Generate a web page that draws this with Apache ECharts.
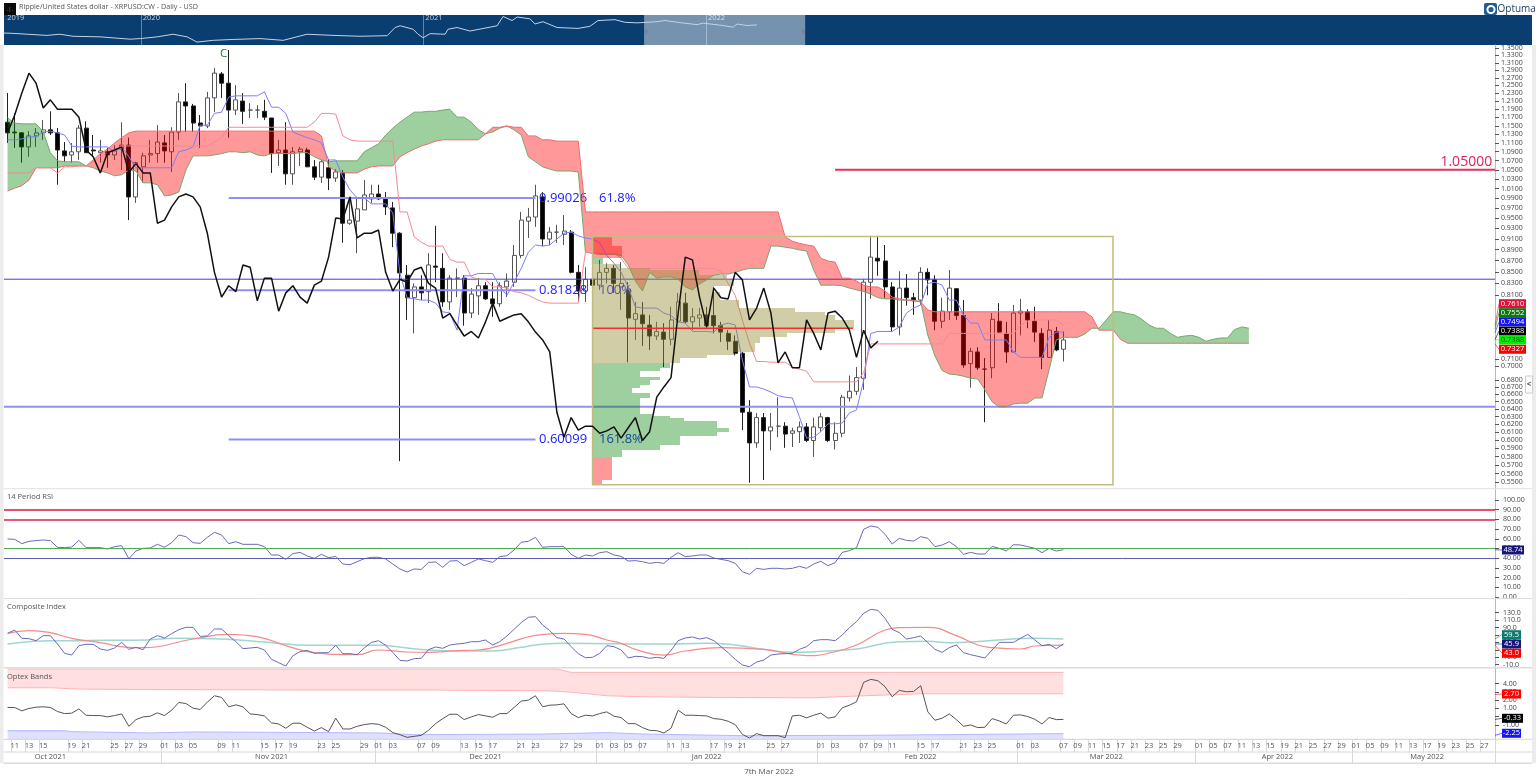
<!DOCTYPE html>
<html><head><meta charset="utf-8"><title>XRPUSD</title>
<style>html,body{margin:0;padding:0;background:#fff}#c{width:1536px;height:783px}</style>
<script src="https://cdn.jsdelivr.net/npm/echarts@6/dist/echarts.min.js"></script></head>
<body><div id="c"></div>
<script>
// ---------- values ----------
const opens=[1.161,1.138,1.136,1.104,1.129,1.136,1.143,1.136,1.095,1.086,
1.093,1.147,1.097,1.091,1.093,1.086,1.099,1.108,.997,1.060,
1.086,1.089,1.113,1.093,1.138,1.210,1.200,1.159,1.152,1.220,
1.281,1.257,1.190,1.212,1.190,1.190,1.187,1.171,1.091,1.097,
1.045,1.093,1.097,1.060,1.038,1.058,1.036,1.047,.945,.949,
.971,.993,1.003,.993,.975,.926,.850,.812,.830,.822,
.866,.862,.805,.845,.845,.787,.815,.832,.810,.802,
.830,.838,.885,.949,.957,.997,.915,.928,.924,.928,
.855,.823,.843,.833,.855,.862,.830,.825,.777,.784,
.768,.751,.757,.746,.774,.803,.773,.779,.784,.783,
.767,.755,.743,.725,.643,.604,.636,.619,.625,.625,
.616,.618,.624,.607,.623,.636,.607,.616,.662,.671,
.689,.838,.880,.875,.830,.765,.828,.812,.808,.855,
.842,.774,.789,.827,.783,.710,.727,.702,.704,.774,
.755,.727,.787,.789,.774,.755,.719,.758,.731];
const closes=[1.136,1.136,1.104,1.129,1.136,1.143,1.136,1.097,1.084,1.093,
1.147,1.091,1.095,1.095,1.086,1.095,1.108,.997,1.069,1.084,
1.089,1.115,1.095,1.138,1.210,1.200,1.159,1.152,1.220,1.283,
1.257,1.190,1.215,1.187,1.190,1.190,1.173,1.089,1.097,1.045,
1.093,1.099,1.060,1.038,1.071,1.036,1.049,.945,.951,.973,
1.001,1.003,.993,.977,.926,.854,.812,.830,.820,.868,
.864,.805,.845,.845,.787,.818,.832,.810,.802,.832,
.840,.885,.951,.957,.999,.915,.928,.928,.930,.855,
.823,.843,.833,.855,.862,.836,.836,.779,.786,.770,
.751,.758,.746,.776,.805,.773,.781,.784,.767,.767,
.757,.743,.725,.643,.604,.636,.619,.624,.625,.615,
.619,.624,.607,.624,.637,.607,.616,.663,.671,.690,
.838,.882,.875,.830,.765,.828,.812,.807,.855,.842,
.774,.790,.828,.783,.708,.728,.704,.702,.777,.757,
.727,.787,.790,.776,.757,.719,.760,.730,.745];
const lows=[1.113,1.102,1.069,1.082,1.104,1.120,1.131,1.022,1.071,1.069,
1.075,1.091,1.082,1.069,1.058,1.075,1.053,.951,.985,1.026,
1.069,1.069,1.069,1.049,1.120,1.138,1.138,1.102,1.147,1.185,
1.220,1.125,1.178,1.157,1.171,1.171,1.166,1.047,1.062,1.022,
1.022,1.062,1.060,1.032,1.026,1.011,1.028,.908,.942,.889,
.971,.985,.991,.961,.900,.582,.776,.755,.808,.803,
.838,.797,.792,.813,.767,.779,.784,.808,.781,.797,
.813,.830,.880,.917,.938,.902,.904,.908,.904,.853,
.805,.805,.808,.825,.836,.820,.792,.712,.745,.736,
.730,.745,.705,.737,.771,.771,.760,.765,.763,.755,
.742,.730,.722,.620,.557,.598,.560,.595,.611,.598,
.599,.604,.605,.587,.618,.605,.596,.611,.657,.666,
.673,.810,.849,.812,.757,.752,.799,.784,.800,.816,
.760,.763,.776,.776,.704,.676,.701,.630,.689,.755,
.711,.727,.752,.763,.742,.702,.718,.728,.713];
const highs=[1.232,1.182,1.138,1.140,1.147,1.166,1.187,1.147,1.115,1.113,
1.154,1.163,1.131,1.120,1.102,1.108,1.161,1.125,1.071,1.091,
1.120,1.154,1.131,1.149,1.232,1.257,1.205,1.178,1.235,1.297,
1.286,1.345,1.252,1.232,1.207,1.202,1.215,1.171,1.120,1.161,
1.104,1.104,1.102,1.075,1.075,1.077,1.055,1.053,.997,.997,
1.032,1.022,1.022,1.007,.987,.928,.868,.836,.850,.889,
.940,.889,.850,.862,.850,.828,.845,.838,.838,.838,
.853,.904,.967,.975,1.022,1.007,.938,.942,.961,.932,
.868,.864,.868,.877,.871,.868,.873,.838,.805,.805,
.784,.773,.771,.797,.820,.820,.795,.795,.797,.830,
.773,.760,.752,.727,.659,.642,.642,.642,.663,.630,
.623,.631,.629,.636,.642,.637,.630,.666,.693,.705,
.843,.921,.921,.904,.838,.857,.852,.820,.864,.862,
.850,.812,.859,.828,.808,.733,.734,.718,.787,.803,
.773,.800,.810,.793,.797,.763,.776,.765,.758];
const tenkan=[1.120,1.120,1.122,1.127,1.127,1.138,1.140,1.136,1.131,1.106,
1.104,1.104,1.104,1.104,1.104,1.093,1.104,1.082,1.058,1.058,
1.058,1.058,1.058,1.058,1.093,1.097,1.104,1.154,1.154,1.182,
1.185,1.222,1.225,1.225,1.225,1.225,1.235,1.197,1.197,1.182,
1.138,1.131,1.125,1.120,1.113,1.075,1.075,1.038,1.011,.995,
.995,.983,.983,.983,.965,.853,.812,.810,.808,.808,
.803,.789,.787,.760,.849,.849,.853,.853,.853,.830,
.816,.838,.862,.891,.904,.902,.904,.915,.926,.928,
.921,.917,.915,.908,.885,.871,.855,.830,.797,.795,
.795,.795,.787,.783,.773,.771,.758,.758,.758,.757,
.768,.771,.768,.715,.677,.677,.674,.670,.665,.663,
.662,.637,.610,.611,.618,.628,.628,.629,.642,.646,
.686,.755,.758,.758,.758,.765,.787,.795,.800,.836,
.838,.833,.808,.808,.784,.771,.771,.745,.745,.745,
.745,.727,.719,.719,.719,.719,.749,.757,.757];
const kijun=[1.047,1.047,1.047,1.047,1.058,1.058,1.058,1.047,1.060,1.060,
1.062,1.062,1.071,1.082,1.091,1.097,1.106,1.106,1.106,1.106,
1.106,1.106,1.106,1.106,1.106,1.106,1.106,1.106,1.106,1.115,
1.125,1.149,1.149,1.149,1.149,1.149,1.149,1.149,1.149,1.149,
1.149,1.149,1.149,1.161,1.182,1.182,1.180,1.129,1.120,1.117,
1.117,1.117,1.117,1.117,1.117,.967,.967,.919,.909,.902,
.902,.902,.878,.873,.873,.847,.843,.843,.830,.830,
.828,.822,.820,.816,.810,.805,.803,.803,.803,.803,
.803,.891,.889,.889,.889,.889,.880,.862,.862,.862,
.862,.862,.862,.862,.862,.862,.862,.862,.862,.862,
.857,.836,.816,.776,.740,.713,.713,.712,.712,.712,
.705,.702,.699,.684,.684,.684,.684,.684,.684,.684,
.697,.739,.739,.739,.739,.739,.739,.739,.739,.739,
.739,.739,.755,.755,.755,.755,.755,.755,.755,.755,
.755,.755,.768,.774,.776,.776,.776,.776,.768];
const chikou=[1.136,1.178,1.232,1.283,1.257,1.195,1.215,1.192,1.192,1.192,
1.173,1.097,1.082,1.047,1.091,1.097,1.104,1.049,1.067,1.047,
1.047,.945,.951,.977,.997,1.003,.997,.977,.926,.855,
.813,.832,.822,.868,.864,.807,.845,.845,.790,.820,
.832,.813,.803,.833,.840,.882,.955,.953,.997,.917,
.926,.926,.932,.855,.823,.843,.838,.859,.864,.836,
.828,.779,.786,.768,.751,.758,.748,.773,.803,.774,
.779,.784,.786,.773,.757,.745,.727,.643,.611,.636,
.620,.625,.625,.616,.619,.624,.610,.623,.636,.607,
.618,.663,.677,.690,.787,.882,.877,.813,.765,.828,
.812,.810,.855,.842,.776,.795,.828,.787,.711,.727,
.704,.704,.776,.755,.730,.787,.790,.779,.760,.719,
.760,.733,.743];
const spanA=[1.171,1.159,1.157,1.157,1.157,1.138,1.091,1.073,1.071,1.071,
1.071,1.062,1.058,1.051,1.047,1.041,1.043,1.053,1.051,1.026,
1.026,1.022,.999,1.001,1.007,1.053,1.084,1.084,1.084,1.086,
1.089,1.093,1.093,1.091,1.093,1.086,1.084,1.089,1.089,1.089,
1.089,1.091,1.091,1.082,1.075,1.071,1.073,1.073,1.073,1.073,
1.093,1.102,1.111,1.131,1.147,1.161,1.173,1.185,1.185,1.187,
1.187,1.190,1.192,1.173,1.173,1.161,1.143,1.134,1.138,1.147,
1.152,1.143,1.131,1.082,1.071,1.060,1.055,1.051,1.051,1.051,
1.049,.891,.889,.887,.887,.887,.885,.868,.840,.823,
.855,.845,.847,.847,.843,.830,.825,.835,.842,.850,
.852,.852,.855,.859,.862,.862,.862,.902,.902,.900,
.898,.895,.893,.859,.833,.833,.833,.832,.828,.825,
.822,.818,.812,.810,.810,.808,.808,.807,.805,.752,
.721,.700,.695,.694,.692,.689,.688,.673,.657,.650,
.650,.654,.655,.655,.662,.662,.701,.745,.749,.749,
.749,.754,.763,.763,.776,.789,.789,.786,.784,.777,
.768,.763,.763,.755,.749,.751,.752,.749,.743,.746,
.748,.748,.761,.765,.763];
const spanB=[1.009,1.015,1.020,1.032,1.058,1.058,1.058,1.058,1.062,1.062,
1.062,1.062,1.075,1.089,1.099,1.113,1.125,1.136,1.140,1.140,
1.140,1.140,1.140,1.140,1.140,1.140,1.140,1.140,1.140,1.140,
1.140,1.140,1.140,1.140,1.140,1.140,1.140,1.140,1.140,1.140,
1.140,1.140,1.140,1.140,1.129,1.060,1.051,1.047,1.047,1.047,
1.055,1.060,1.062,1.062,1.062,1.082,1.091,1.099,1.106,1.111,
1.117,1.120,1.120,1.120,1.120,1.120,1.120,1.134,1.149,1.149,
1.152,1.149,1.149,1.129,1.129,1.120,1.120,1.117,1.117,1.117,
1.117,.967,.967,.967,.967,.967,.967,.967,.967,.967,
.967,.967,.967,.967,.967,.967,.967,.967,.967,.967,
.967,.967,.967,.967,.967,.967,.967,.967,.967,.919,
.911,.907,.904,.902,.880,.875,.873,.845,.845,.840,
.833,.830,.830,.823,.813,.810,.808,.808,.805,.792,
.789,.789,.789,.789,.789,.789,.789,.789,.789,.789,
.789,.789,.789,.789,.789,.789,.789,.789,.789,.789,
.789,.789,.781,.760,.760,.760,.746,.740,.740,.740,
.740,.740,.740,.740,.740,.740,.740,.740,.740,.740,
.740,.740,.740,.740,.740];
const rsiValues=[59.8,59.4,55.0,57.4,58.1,58.8,58.1,51.2,50.9,51.5,
58.4,50.9,50.9,50.9,49.5,51.9,52.9,39.5,47.4,50.2,
50.5,54.3,51.2,56.0,63.9,62.2,56.0,55.3,61.5,66.7,
63.9,55.0,57.0,54.3,54.3,54.3,51.9,43.3,43.3,38.8,
44.7,46.0,42.3,39.9,44.0,40.5,41.9,34.0,33.3,36.4,
39.5,40.9,40.9,39.2,34.0,28.9,25.8,28.9,28.5,35.7,
36.1,30.6,37.1,37.5,32.3,35.7,39.2,37.5,35.7,41.6,
42.6,48.4,56.4,57.4,61.5,51.2,51.9,51.9,51.9,44.0,
39.9,43.3,42.3,45.7,46.7,43.3,41.9,37.1,37.5,36.4,
34.7,35.7,34.7,40.9,45.7,41.6,42.3,43.3,43.3,40.2,
38.8,37.5,34.7,26.1,23.4,29.6,28.5,29.6,29.6,28.9,
29.6,31.6,29.6,34.0,36.8,32.3,35.4,46.0,47.8,50.9,
69.8,73.2,71.8,64.6,54.6,60.5,58.4,57.7,62.2,60.5,
51.9,53.6,57.0,51.9,44.0,46.0,44.3,44.3,52.2,50.2,
47.4,53.9,53.6,51.9,50.2,45.7,50.2,47.4,48.74];
const compositeValues=[74.5,83.4,61.0,60.1,54.7,68.2,68.2,45.8,20.6,16.1,
41.3,44.9,44.9,32.3,28.7,35.0,50.2,31.4,36.8,30.5,
59.2,68.2,61.9,73.6,84.3,90.6,90.6,66.4,67.3,86.1,
86.1,68.2,52.0,33.2,35.0,36.8,29.6,4.5,-4.5,-13.5,
14.3,25.1,28.7,20.6,22.4,22.4,42.2,19.7,19.7,17.0,
35.0,50.2,54.7,42.2,23.3,1.8,0.0,6.3,7.2,30.5,
37.7,34.1,43.1,45.8,47.6,52.0,52.0,56.5,43.1,52.0,
67.3,85.2,103.2,117.6,119.4,96.9,81.7,62.8,59.2,38.6,
19.7,9.0,9.9,20.6,41.3,38.6,29.6,8.1,12.6,11.7,
7.2,9.9,7.2,28.7,54.7,61.9,64.6,59.2,62.8,54.7,
38.6,22.4,4.5,-10.8,-15.3,-2.7,2.7,16.1,18.8,19.7,
20.6,31.4,38.6,54.7,57.4,57.4,54.7,70.0,89.7,105.9,
128.3,139.1,136.4,114.9,85.2,76.3,59.2,62.8,67.3,49.4,
31.4,23.3,35.9,43.1,22.4,17.0,12.6,8.1,29.6,50.2,
50.2,50.2,61.0,71.8,56.5,41.3,44.9,33.2,45.9];
const compositeSlowIdx=[0,3,6,9,13,17,19,26,31,33,36,39,43,47,49,52,56,59,63,66,70,74,78,81,84,86,88,92,95,100,106,112,115,119,123,125,129,133,136,138,142,144,148];
const compositeSlow=[74.5,81.7,76.3,61.0,49.4,36.8,35.9,59.2,71.8,70.0,61.0,41.3,22.4,17.0,17.0,29.6,24.2,23.3,27.8,29.6,47.6,69.1,74.5,71.8,56.5,47.6,31.4,16.1,26.9,35.9,31.4,14.3,20.6,43.1,83.4,89.7,90.6,68.2,43.1,35.9,32.3,40.4,43.0];
const compositeMidIdx=[0,3,6,9,14,18,24,30,36,39,43,52,56,59,63,68,72,74,78,84,92,98,102,106,110,113,119,125,129,132,137,144,148];
const compositeMid=[45.8,52.0,54.7,54.7,55.6,55.6,61.0,59.2,51.1,45.8,42.2,42.2,35.0,29.6,26.9,26.9,36.8,43.1,47.6,46.7,45.8,47.6,43.1,31.4,23.3,25.1,32.3,52.0,52.9,49.4,53.8,61.0,59.5];
const optexValues=[1.12,1.12,.71,1.0,1.16,1.2,1.12,.63,.38,.43,
.95,.18,.14,.14,-.02,.14,.34,-1.16,-.35,-.02,
.06,.47,.14,.79,1.73,1.6,1.04,.87,1.77,2.54,
2.34,1.2,1.44,1.2,.34,.26,.10,-.75,-.88,-1.40,
-.79,-.79,-1.28,-1.73,-1.32,-1.81,-.18,-1.49,-1.49,-1.16,
-.96,-.84,-.92,-1.28,-1.93,-2.18,-2.50,-2.38,-2.26,-1.65,
-.84,-.23,.30,.30,-.35,-.02,.26,.10,-.06,.38,
.38,1.12,1.89,2.01,2.54,1.2,1.40,1.44,1.56,.38,
-.10,.18,.10,.38,.59,.06,-.10,-.84,-.84,-1.32,
-1.65,-1.69,-1.97,-1.40,.79,.18,.18,.14,.10,-.23,
-.31,-.55,-.96,-2.14,-2.58,-2.05,-2.30,-2.30,-2.30,-2.54,
.10,.18,-.14,.18,.43,-.18,-.02,1.08,1.40,1.81,
4.17,4.53,4.37,3.64,2.42,3.19,3.03,3.07,3.76,.59,
-.43,-.18,.34,-.35,-1.16,-1.0,-1.32,-1.28,-.23,-.51,
-.88,.18,.22,.02,-.31,-.88,-.10,-.35,-.33];
const upperBandIdx=[0,6,10,17,42,60,75,77,79,81,84,89,99,113,120,128,148];
const upperBandHigh=[5.79,5.79,5.79,5.79,5.79,5.79,5.79,5.79,5.38,5.38,5.38,5.38,5.38,5.38,5.38,5.38,5.38];
const upperBandLow=[3.51,3.51,3.35,3.31,3.23,3.23,3.15,3.08,2.98,2.82,2.54,2.42,2.34,2.29,2.54,2.78,2.78];
const lowerBandIdx=[0,8,9,20,26,37,52,57,75,84,89,103,120,148];
const lowerBandHigh=[-1.69,-1.69,-1.81,-1.97,-1.85,-1.89,-1.97,-2.18,-2.10,-1.93,-2.10,-2.30,-2.26,-2.05];
const lowerBandLow=[-2.74,-2.74,-2.74,-2.74,-2.74,-2.74,-2.74,-2.74,-2.74,-2.74,-2.74,-2.74,-2.74,-2.74];
// volume profile rows: price edges, volume in bar widths, zone per row
const profileEdges=[.919,.902,.880,.870,.863,.859,.850,.842,.831,.822,.808,.795,.789,.784,.776,.771,.763,.756,.750,.740,.727,.722,.718,.711,.704,.700,.691,.686,.680,.675,.669,.662,.655,.641,.638,.635,.631,.623,.618,.612,.602,.595,.587,.560,.556];
const profileVolume=[2.7,4.1,1.5,3.9,8.1,14.9,18.8,19.8,17.0,17.9,20.5,28.4,32.6,34.0,36.6,36.6,34.0,27.2,23.5,22.8,19.8,16.0,12.3,10.9,9.5,6.7,9.5,8.1,6.7,5.5,8.1,6.7,6.7,8.3,10.9,12.8,17.4,19.1,17.4,12.3,9.5,4.1,2.7,1.3];
const profileZone=['r','r','g','t','t','t','t','t','t','t','t','t','t','t','t','t','t','t','t','t','t','t','t','g','g','g','g','g','g','g','g','g','g','g','g','g','g','g','g','g','g','g','r','r'];
// overview strip
const overviewYears=[2019.516,2019.548,2019.598,2019.668,2019.714,2019.760,2019.856,2019.962,2019.998,2020.058,2020.114,2020.164,2020.199,2020.256,2020.327,2020.422,2020.504,2020.564,2020.588,2020.680,2020.776,2020.872,2020.900,2020.918,2020.964,2020.981,2020.999,2021.024,2021.077,2021.087,2021.119,2021.165,2021.261,2021.282,2021.289,2021.314,2021.332,2021.377,2021.395,2021.423,2021.473,2021.547,2021.589,2021.618,2021.678,2021.713,2021.756,2021.827,2021.855,2021.915,2021.968,2021.990,2022.060,2022.096,2022.110,2022.145,2022.180];
const overviewValues=[.41,.40,.37,.33,.37,.30,.28,.20,.22,.28,.37,.28,.10,.16,.19,.22,.16,.31,.37,.33,.30,.32,.60,.66,.54,.37,.25,.39,.37,.54,.60,.48,.66,.98,.99,.84,.96,.90,.72,.80,.60,.57,.64,.84,.87,.78,.76,.80,.84,.76,.70,.75,.67,.61,.72,.67,.69];
// right-hand scale ticks
const priceTicks=[1.35,1.33,1.31,1.29,1.27,1.25,1.23,1.21,1.19,1.17,1.15,1.13,1.11,1.09,1.07,1.05,1.03,1.01,.99,.97,.95,.93,.91,.89,.87,.85,.83,.81,.71,.70,.68,.67,.66,.65,.64,.63,.62,.61,.60,.59,.58,.57,.56,.55];
const rsiTicks=[100,90,80,70,60,50,40,30,20,10,0];
const compositeTicks=[130,110,90,70,50,30,10,-10];
const optexTicks=[4,3,2,1,0,-1];
// date axis
const dayIdx=[1,3,5,9,11,15,17,19,22,24,26,30,32,36,38,40,44,46,50,52,54,58,60,64,66,68,72,74,78,80,83,85,87,89,93,95,99,101,103,107,109,114,116,120,122,124,128,130,134,136,138,142,144,148,150,152,154,156,158,160,162,164,167,169,171,173,175,177,179,181,183,185,187,189,191,193,195,197,199,201,203,205,207];
const dayText=['11','13','15','19','21','25','27','29','01','03','05','09','11','15','17','19','23','25','29','01','03','07','09','13','15','17','21','23','27','29','01','03','05','07','11','13','17','19','21','25','27','01','03','07','09','11','15','17','21','23','25','01','03','07','09','11','15','17','21','23','25','29','01','05','07','11','13','15','19','21','25','27','29','01','05','09','11','13','17','19','23','25','27'];
const monthStartIdx=[22,52,83,114,142,167,189];
const monthLabelIdx=[6,37,67,98,128,154,178,199];
const monthText=['Oct 2021','Nov 2021','Dec 2021','Jan 2022','Feb 2022','Mar 2022','Apr 2022','May 2022'];
// levels and notes on the price panel: [from bar, to bar, price]
const levelBlueThin=[-.5,208.5,.8373];
const levelBlueThick=[-.5,208.5,.6433];
const levelResistance=[116,208.5,1.05];
const levelFib618=[31,74,.99026];
const levelFib100=[31,74,.81828];
const levelFib1618=[31,74,.60099];
const levelPoc=[82,118.5,.7566];
const rangeBox=[82,154.95,.9146,.5472];
const notes=[[74.5,.99026,'0.99026'],[82.9,.99026,'61.8%'],[74.5,.81828,'0.81828'],[82.9,.81828,'100%'],[74.5,.60099,'0.60099'],[82.9,.60099,'161.8%']];

// ---------- helpers ----------
const BLANK=209, L=Math.log;
// my eye readings ran on a slightly flatter ruler than the price scale: bring them onto it
const onScale=p=>L(1.3453)+1.01531*(L(p)-L(1.345));
const cats=Array.from({length:BLANK},(_,i)=>String(i));
const dayMap={};dayIdx.forEach((d,k)=>dayMap[d]=dayText[k]);
const monthMap={};monthLabelIdx.forEach((d,k)=>monthMap[d]=monthText[k]);
const monthSet=new Set(monthStartIdx);
const lnA=spanA.map(onScale), lnB=spanB.map(onScale);
const FONT='"Open Sans",sans-serif';

// cloud runs between span crossings
const runs=[];
(function(){
  let cur=null;
  for(let i=0;i<lnA.length;i++){
    const green=lnA[i]>=lnB[i];
    if(!cur){cur={green,pts:[[i,lnA[i],lnB[i]]]};continue;}
    if(green!==cur.green){
      const d0=lnA[i-1]-lnB[i-1],d1=lnA[i]-lnB[i],t=d0/(d0-d1),v=lnA[i-1]+t*(lnA[i]-lnA[i-1]);
      cur.pts.push([i-1+t,v,v]);runs.push(cur);
      cur={green,pts:[[i-1+t,v,v],[i,lnA[i],lnB[i]]]};
    } else cur.pts.push([i,lnA[i],lnB[i]]);
  }
  runs.push(cur);
})();
const pix=(api,idx,y)=>{const f=Math.floor(idx);const c=api.coord([f,y]);return [c[0]+(idx-f)*api.size([1,0])[0],c[1]];};

const lineS=(name,x,y,data,color,width,z,extra)=>Object.assign({name,type:'line',xAxisIndex:x,yAxisIndex:y,data,symbol:'none',z,lineStyle:{color,width},itemStyle:{color},silent:true,animation:false},extra||{});
const hidden={axisLine:{show:false},axisTick:{show:false},axisLabel:{show:false},splitLine:{show:false}};

const segment=(vals,color,width,z)=>({type:'custom',xAxisIndex:2,yAxisIndex:1,z,silent:true,clip:true,data:[[vals[0],L(vals[2]),vals[1]]],encode:{x:0,y:1},
  renderItem:(p,api)=>{const a=api.coord([api.value(0),api.value(1)]),b=api.coord([api.value(2),api.value(1)]);
    return {type:'line',shape:{x1:a[0],y1:a[1],x2:b[0],y2:a[1]},style:{stroke:color,lineWidth:width}};}});

const bandSeries=(idx,hi,lo,fill,stroke,drawBottom)=>({type:'custom',xAxisIndex:5,yAxisIndex:4,z:2,silent:true,data:[[idx[0],hi[0]]],encode:{x:0,y:1},
  renderItem:(p,api)=>{const t=idx.map((d,k)=>api.coord([d,hi[k]])),b=idx.map((d,k)=>api.coord([d,lo[k]]));
    const kids=[{type:'polygon',shape:{points:t.concat(b.slice().reverse())},style:{fill}},
      {type:'polyline',shape:{points:t},style:{fill:'none',stroke,lineWidth:1}}];
    if(drawBottom)kids.push({type:'polyline',shape:{points:b},style:{fill:'none',stroke,lineWidth:1}});
    return {type:'group',children:kids};}});

const option={
  animation:false,backgroundColor:'#fff',
  grid:[
    {left:4,right:4,top:15,height:30,show:true,backgroundColor:'#0a3d70',borderWidth:0},
    {left:4,right:41,top:45,height:443.5,show:false},
    {left:4,right:41,top:489,height:109,show:false},
    {left:4,right:41,top:598.5,height:69.2,show:false},
    {left:4,right:41,top:668,height:71.3,show:false},
    {left:4,right:41,top:752,height:11,show:false}
  ],
  xAxis:[
    Object.assign({type:'value',gridIndex:0,min:2019.516,max:2024.923},hidden,{
      axisLabel:{show:true,inside:true,customValues:[2019.52,2020,2021,2022],formatter:v=>String(Math.floor(v)),color:'#c5d2df',fontSize:7.5,fontFamily:FONT,align:'left',margin:23,padding:[0,0,0,2]},
      axisTick:{show:true,customValues:[2020,2021,2022],inside:true,length:30,lineStyle:{color:'#5f86ad',width:1}}}),
    Object.assign({type:'category',gridIndex:1,data:cats,boundaryGap:true},hidden),
    Object.assign({type:'value',gridIndex:1,position:'top',min:-.5,max:208.5},hidden),
    Object.assign({type:'category',gridIndex:2,data:cats},hidden),
    Object.assign({type:'category',gridIndex:3,data:cats},hidden),
    {type:'category',gridIndex:4,data:cats,position:'bottom',
      axisLine:{show:true,onZero:false,lineStyle:{color:'#d8d8d8'}},
      axisTick:{show:true,length:13,interval:i=>i in dayMap,lineStyle:{color:'#d8d8d8'}},
      axisLabel:{show:true,interval:i=>i in dayMap,formatter:(v,i)=>dayMap[i]||'',color:'#555',fontSize:7.5,fontFamily:FONT,margin:3},splitLine:{show:false}},
    {type:'category',gridIndex:5,data:cats,position:'top',
      axisLine:{show:false},axisTick:{show:false},axisLabel:{show:false},splitLine:{show:false}},
    {type:'category',gridIndex:5,data:cats,position:'bottom',
      axisLine:{show:true,onZero:false,lineStyle:{color:'#d8d8d8'}},
      axisTick:{show:true,inside:true,length:11,interval:i=>monthSet.has(i),lineStyle:{color:'#d8d8d8'}},
      axisLabel:{show:true,inside:true,interval:i=>i in monthMap,formatter:(v,i)=>monthMap[i]||'',color:'#555',fontSize:7.5,fontFamily:FONT,margin:2},splitLine:{show:false}}
  ],
  yAxis:[
    Object.assign({type:'value',gridIndex:0,min:0,max:1.03},hidden),
    {type:'value',gridIndex:1,position:'right',min:L(.5431),max:L(1.3592),scale:true,splitLine:{show:false},
      axisLine:{show:true,onZero:false,lineStyle:{color:'#bbb'}},
      axisTick:{show:true,length:4,customValues:priceTicks.map(L),lineStyle:{color:'#555'}},
      axisLabel:{show:true,customValues:priceTicks.map(L),formatter:v=>Math.exp(v).toFixed(4),color:'#444',fontSize:7,fontFamily:FONT,margin:6,hideOverlap:false}},
    {type:'value',gridIndex:2,position:'right',min:-1,max:111.3,splitLine:{show:false},
      axisLine:{show:true,onZero:false,lineStyle:{color:'#bbb'}},
      axisTick:{show:true,length:4,customValues:rsiTicks,lineStyle:{color:'#555'}},
      axisLabel:{show:true,customValues:rsiTicks,formatter:v=>v.toFixed(2),color:'#444',fontSize:7,fontFamily:FONT,margin:8}},
    {type:'value',gridIndex:3,position:'right',min:-18,max:168.2,splitLine:{show:false},
      axisLine:{show:true,onZero:false,lineStyle:{color:'#bbb'}},
      axisTick:{show:true,length:4,customValues:compositeTicks,lineStyle:{color:'#555'}},
      axisLabel:{show:true,customValues:compositeTicks,formatter:v=>v.toFixed(1),color:'#444',fontSize:7,fontFamily:FONT,margin:8}},
    {type:'value',gridIndex:4,position:'right',min:-2.74,max:5.91,splitLine:{show:false},
      axisLine:{show:true,onZero:false,lineStyle:{color:'#bbb'}},
      axisTick:{show:true,length:4,customValues:optexTicks,lineStyle:{color:'#555'}},
      axisLabel:{show:true,customValues:optexTicks,formatter:v=>v.toFixed(2),color:'#444',fontSize:7,fontFamily:FONT,margin:8}},
    Object.assign({type:'value',gridIndex:5,min:0,max:1},hidden)
  ],
  series:[
    lineS('overview',0,0,overviewYears.map((y,k)=>[y,overviewValues[k]]),'#c7d3e0',1,3,{
      markArea:{silent:true,itemStyle:{color:'rgba(255,255,255,0.44)'},data:[[{xAxis:2021.781},{xAxis:2022.351}]]}}),
    segment(levelBlueThin,'#3c3cdc',1,3),
    segment(levelBlueThick,'#9090f0',2,3),
    segment(levelResistance,'#e6305a',2,3),
    segment(levelFib618,'#8f8ff5',2,3),
    segment(levelFib100,'#8f8ff5',2,3),
    segment(levelFib1618,'#8f8ff5',2,3),
    {name:'XRPUSD',type:'candlestick',xAxisIndex:1,yAxisIndex:1,z:2,barWidth:4.5,silent:true,
      data:opens.map((o,i)=>[onScale(o),onScale(closes[i]),onScale(lows[i]),onScale(highs[i])]),
      itemStyle:{color:'#fff',color0:'#000',borderColor:'#555',borderColor0:'#222',borderWidth:1}},
    {type:'custom',xAxisIndex:2,yAxisIndex:1,z:3,silent:true,data:notes.map(n=>[n[0],L(n[1])]),encode:{x:0,y:1},
      renderItem:(p,api)=>{const c=api.coord([api.value(0),api.value(1)]);
        return {type:'text',x:c[0],y:c[1],style:{text:notes[p.dataIndex][2],fill:'#2020ff',fontSize:13,fontFamily:FONT,textAlign:'left',textVerticalAlign:'middle'}};}},
    {type:'custom',xAxisIndex:2,yAxisIndex:1,z:3,silent:true,data:[[208.1,L(1.05)]],encode:{x:0,y:1},
      renderItem:(p,api)=>{const c=api.coord([api.value(0),api.value(1)]);
        return {type:'text',x:c[0],y:c[1]-0.5,style:{text:'1.05000',fill:'#e0205a',fontSize:14,fontFamily:FONT,textAlign:'right',textVerticalAlign:'bottom'}};}},
    {type:'custom',xAxisIndex:2,yAxisIndex:1,z:3,silent:true,data:[[30.3,L(1.335)]],encode:{x:0,y:1},
      renderItem:(p,api)=>{const c=api.coord([api.value(0),api.value(1)]);
        return {type:'text',x:c[0],y:c[1],style:{text:'C',fill:'#1f7a2a',fontSize:11.5,fontFamily:FONT,textAlign:'center',textVerticalAlign:'middle'}};}},
    {name:'cloud',type:'custom',xAxisIndex:1,yAxisIndex:1,z:4,silent:true,
      data:runs.map(r=>[Math.floor(r.pts[0][0]),r.pts[0][1]]),encode:{x:0,y:1},
      renderItem:(p,api)=>{const r=runs[p.dataIndex];
        const top=r.pts.map(q=>pix(api,q[0],q[1])),bot=r.pts.map(q=>pix(api,q[0],q[2])).reverse();
        return {type:'polygon',shape:{points:top.concat(bot)},style:{fill:r.green?'rgba(0,128,0,0.38)':'rgba(255,0,0,0.4)'}};}},
    lineS('spanA',1,1,lnA,'#74a870',1,4),
    lineS('spanB',1,1,lnB,'#ee6a74',1,4),
    lineS('tenkan',1,1,tenkan.map(onScale),'#7d7dfa',1,5),
    lineS('kijun',1,1,kijun.map(onScale),'#f28a96',1,5),
    {name:'profile',type:'custom',xAxisIndex:2,yAxisIndex:1,z:6,silent:true,
      data:profileVolume.map((v,k)=>[82,onScale(profileEdges[k]),v,onScale(profileEdges[k+1])]),encode:{x:0,y:1},
      renderItem:(p,api)=>{const a=api.coord([api.value(0),api.value(1)]),b=api.coord([api.value(0)+api.value(2),api.value(3)]);
        const z=profileZone[p.dataIndex];const y0=Math.round(a[1]),y1=Math.round(b[1]);
        return {type:'rect',shape:{x:Math.round(a[0]),y:y0,width:Math.round(b[0])-Math.round(a[0]),height:y1-y0},
          style:{fill:z==='r'?'rgba(255,0,0,0.4)':z==='g'?'rgba(0,128,0,0.38)':'rgba(150,145,60,0.45)'}};}},
    lineS('chikou',1,1,chikou.map(onScale),'#111',1.5,7),
    segment(levelPoc,'#ec3030',1.5,7),
    {name:'range',type:'custom',xAxisIndex:2,yAxisIndex:1,z:7,silent:true,data:[[rangeBox[0],L(rangeBox[2]),rangeBox[1],L(rangeBox[3])]],encode:{x:0,y:1},
      renderItem:(p,api)=>{const a=api.coord([api.value(0),api.value(1)]),b=api.coord([api.value(2),api.value(3)]);
        return {type:'rect',shape:{x:a[0],y:a[1],width:b[0]-a[0],height:b[1]-a[1]},style:{fill:'none',stroke:'#c2bd7c',lineWidth:1.5}};}},
    lineS('rsi',3,2,rsiValues,'#6a6ab8',1,3,{markLine:{silent:true,symbol:'none',animation:false,label:{show:false},
      data:[{yAxis:90,lineStyle:{color:'#e4506e',width:2,type:'solid'}},{yAxis:80,lineStyle:{color:'#dc2048',width:1.5,type:'solid'}},{yAxis:50.2,lineStyle:{color:'#55aa55',width:1,type:'solid'}},{yAxis:39.9,lineStyle:{color:'#5a5ab0',width:1,type:'solid'}}]}}),
    lineS('composite slow',4,3,compositeSlowIdx.map((d,k)=>[d,compositeSlow[k]]),'#f58a8a',1.2,3,{smooth:true}),
    lineS('composite mid',4,3,compositeMidIdx.map((d,k)=>[d,compositeMid[k]]),'#a0d6ce',1.5,2,{smooth:true}),
    lineS('composite',4,3,compositeValues,'#6a6ab8',1,4),
    bandSeries(upperBandIdx,upperBandHigh,upperBandLow,'#ffdfdf','#ffb4b4',true),
    bandSeries(lowerBandIdx,lowerBandHigh,lowerBandLow,'#dfdfff','#b8b8ff',false),
    lineS('optex',5,4,optexValues,'#555',1,3),
    lineS('months',7,5,[],'#000',0,1)
  ]
};
const chart=echarts.init(document.getElementById('c'),null,{renderer:'canvas'});
chart.setOption(option);

// ---------- frame, header and the value flags ----------
const txt=(x,y,t,size,color,align,weight)=>({type:'text',x,y,silent:true,z:50,style:{text:t,fontSize:size,fill:color,fontFamily:FONT,textAlign:align||'left',textVerticalAlign:'middle',fontWeight:weight||'normal'}});
const rect=(x,y,w,h,fill,extra)=>Object.assign({type:'rect',silent:true,z:40,shape:{x,y,width:w,height:h},style:{fill}},extra||{});
const hl=(x1,x2,y,c,w)=>({type:'line',silent:true,z:40,shape:{x1,y1:y,x2,y2:y},style:{stroke:c,lineWidth:w||1}});
const flags=[
 [1,.7610,'0.7610',303.7,'#dc143c','#fff',1499,27],[1,.7552,'0.7552',312.7,'#0c7a0c','#fff',1499,27],[1,.7494,'0.7494',321.7,'#1414ff','#fff',1499,27],
 [1,.7388,'0.7388',331,'#000','#fff',1499,27],[1,.7388,'0.7388',340,'#00f000','#064006',1499,27],[1,.7327,'0.7327',349.3,'#ff0000','#fff',1499,27],
 [2,48.74,'48.74',550,'#17177a','#fff',1502,22],
 [3,59.5,'59.5',634.7,'#0f7a6f','#fff',1502,19],[3,45.9,'45.9',644,'#17177a','#fff',1502,19],[3,43.0,'43.0',653.3,'#ff0000','#fff',1502,19],
 [4,2.70,'2.70',694,'#ff0000','#fff',1502,19],[4,-.33,'-0.33',718.3,'#000','#fff',1502,21],[4,-2.25,'-2.25',733.3,'#1414ff','#fff',1502,19]
];
const els=[
  rect(0,45,3.5,718,'#ececec'),rect(1532,45,4,718,'#ececec'),
  hl(4,1532,488.7,'#e2e2e2',1),hl(4,1532,598.4,'#dcdcdc',1),hl(4,1532,667.8,'#dcdcdc',1.5),hl(4,1532,739.3,'#d8d8d8',1),hl(4,1532,752,'#d8d8d8',1),hl(4,1532,763.3,'#dcdcdc',1.5),
  rect(4,3,12,12,'#0b0b0b'),txt(10,9,'.|.',6,'#888','center'),
  txt(19,6.5,'Ripple/United States dollar - XRPUSD:CW - Daily - USD',7.2,'#555'),
  rect(1484,3,13,12,'#1f5d92',{shape:{x:1484,y:3,width:13,height:12,r:2}}),
  {type:'circle',silent:true,z:41,shape:{cx:1491,cy:9.5,r:3.6},style:{fill:'none',stroke:'#fff',lineWidth:2}},
  txt(1497.5,9,'Optuma',10,'#1c3f63'),
  txt(7,496.5,'14 Period RSI',7.5,'#555'),txt(7,607,'Composite Index',7.5,'#555'),txt(7,676.5,'Optex Bands',7.5,'#555'),
  txt(769,771.5,'7th Mar 2022',8,'#555','center'),
  rect(645,29,2.5,5,'#7f7fa5'),rect(802,29,2.5,5,'#7f7fa5'),
  rect(1525.5,376,7,17,'#fff',{style:{fill:'#fff',stroke:'#ccc',lineWidth:1}}),txt(1529,384.5,'<',8,'#555','center','bold')
];
flags.forEach(f=>{
  const real=chart.convertToPixel({yAxisIndex:f[0]},f[0]===1?L(f[1]):f[1]);
  els.push({type:'line',silent:true,z:41,shape:{x1:1495,y1:real,x2:f[6],y2:f[3]},style:{stroke:f[4],lineWidth:1,opacity:.6}});
  els.push(rect(f[6],f[3]-4.5,f[7],9,f[4]));
  els.push(Object.assign(txt(f[6]+f[7]/2,f[3],f[2],7.5,f[5],'center'),{z:51}));
});
chart.setOption({graphic:{elements:els}});
</script></body></html>
